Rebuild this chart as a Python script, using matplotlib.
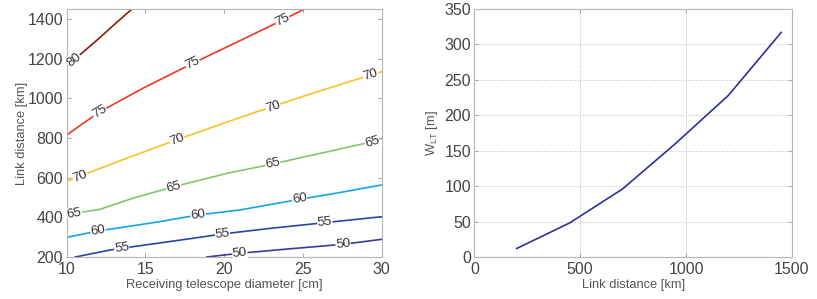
import numpy as np
import matplotlib
matplotlib.use("Agg")
import matplotlib.pyplot as plt

plt.rcParams["font.family"] = ["Liberation Sans", "DejaVu Sans"]
plt.rcParams["mathtext.fontset"] = "custom"
plt.rcParams["mathtext.rm"] = "Liberation Sans"

# левый график: изолинии (диаметр телескопа -> дальность линии)
levels = [80, 75, 70, 65, 60, 55, 50]
level_x = {
    80: [10, 11, 12, 13, 14.15],
    75: [10, 12.1, 14.9, 18, 21, 23.7, 25.1],
    70: [10, 12, 14, 16, 18, 20, 22, 24, 26, 28, 30],
    65: [10, 10.5, 12.1, 14.2, 16.8, 20.2, 23.1, 25, 27, 29.4, 30],
    60: [10, 12, 15.9, 18.35, 21, 24.8, 27, 30],
    55: [10.55, 12.75, 13.5, 18, 19.9, 23, 26.4, 30],
    50: [18.9, 21, 24, 27.55, 30],
}
level_y = {
    80: [1166, 1230, 1298, 1370, 1450],
    75: [815, 932, 1053, 1176, 1290, 1394, 1450],
    70: [582, 643, 703, 762, 819, 875, 930, 983, 1035, 1085, 1134],
    65: [412, 420, 440, 496, 554, 622, 669, 703, 738, 781, 798],
    60: [299, 331, 378, 412, 437, 491, 520, 563],
    55: [200, 235, 244, 294, 316, 345, 373, 403],
    50: [200, 219, 240, 264, 289],
}
label_x = {
    80: [10.45],
    75: [12.1, 18.0, 23.7],
    70: [10.85, 17.0, 23.1, 29.3],
    65: [10.5, 16.8, 23.1, 29.4],
    60: [12.0, 18.35, 24.8],
    55: [13.5, 19.9, 26.4],
    50: [21.0, 27.55],
}
level_colors = {
    80: "#8a1c0a",
    75: "#ee3a22",
    70: "#f6c322",
    65: "#82c66a",
    60: "#14a6e6",
    55: "#2846a6",
    50: "#3a3a9e",
}

# правый график: W_LT от дальности
link_km = [200, 450, 700, 950, 1200, 1450]
w_lt = [12, 48, 96, 160, 228, 317]

fig = plt.figure(figsize=(8.17, 2.99), dpi=100)
ax1 = fig.add_axes([0.0816, 0.1405, 0.3855, 0.8294])
ax2 = fig.add_axes([0.5806, 0.1405, 0.3886, 0.8294])

tick_col = "#444444"
for ax in (ax1, ax2):
    for s in ax.spines.values():
        s.set_color("#b5b5b5")
        s.set_linewidth(0.8)
    ax.tick_params(direction="in", length=3, width=0.6, color="#999999",
                   labelsize=11.5, labelcolor=tick_col, top=True, right=True, pad=2.5)
    ax.tick_params(axis="x", pad=3.5)

ax1.set_xlim(10, 30)
ax1.set_ylim(200, 1450)
ax1.set_xticks([10, 15, 20, 25, 30])
ax1.set_yticks(np.arange(200, 1401, 200))
ax1.set_xlabel("Receiving telescope diameter [cm]", fontsize=9.3, color="#555555")
ax1.set_ylabel("Link distance [km]", fontsize=9.3, color="#555555")
ax1.xaxis.set_label_coords(0.5, -0.087)
ax1.yaxis.set_label_coords(-0.123, 0.5)

for lv in levels:
    xs = np.array(level_x[lv], dtype=float)
    ys = np.array(level_y[lv], dtype=float)
    ax1.plot(xs, ys, color=level_colors[lv], lw=1.2, zorder=2)
    for lx in label_x[lv]:
        ly = np.interp(lx, xs, ys)
        p0 = ax1.transData.transform((lx - 0.4, np.interp(lx - 0.4, xs, ys)))
        p1 = ax1.transData.transform((lx + 0.4, np.interp(lx + 0.4, xs, ys)))
        ang = np.degrees(np.arctan2(p1[1] - p0[1], p1[0] - p0[0]))
        ax1.text(lx, ly, str(lv), fontsize=9.5, color="#333333", rotation=ang,
                 rotation_mode="anchor", ha="center", va="center", zorder=3,
                 bbox=dict(boxstyle="square,pad=0.02", fc="white", ec="none"))

ax2.plot(link_km, w_lt, color="#2f2f9c", lw=1.2)
ax2.set_xlim(0, 1500)
ax2.set_ylim(0, 350)
ax2.set_xticks([0, 500, 1000, 1500])
ax2.set_yticks(np.arange(0, 351, 50))
ax2.grid(True, linestyle=":", color="#bbbbbb", linewidth=0.7)
ax2.set_axisbelow(True)
ax2.set_xlabel("Link distance [km]", fontsize=9.3, color="#555555")
ax2.set_ylabel(r"W$_{\mathrm{LT}}$ [m]", fontsize=9.3, color="#555555")
ax2.xaxis.set_label_coords(0.5, -0.087)
ax2.yaxis.set_label_coords(-0.108, 0.5)

fig.savefig("out.png", dpi=100)
